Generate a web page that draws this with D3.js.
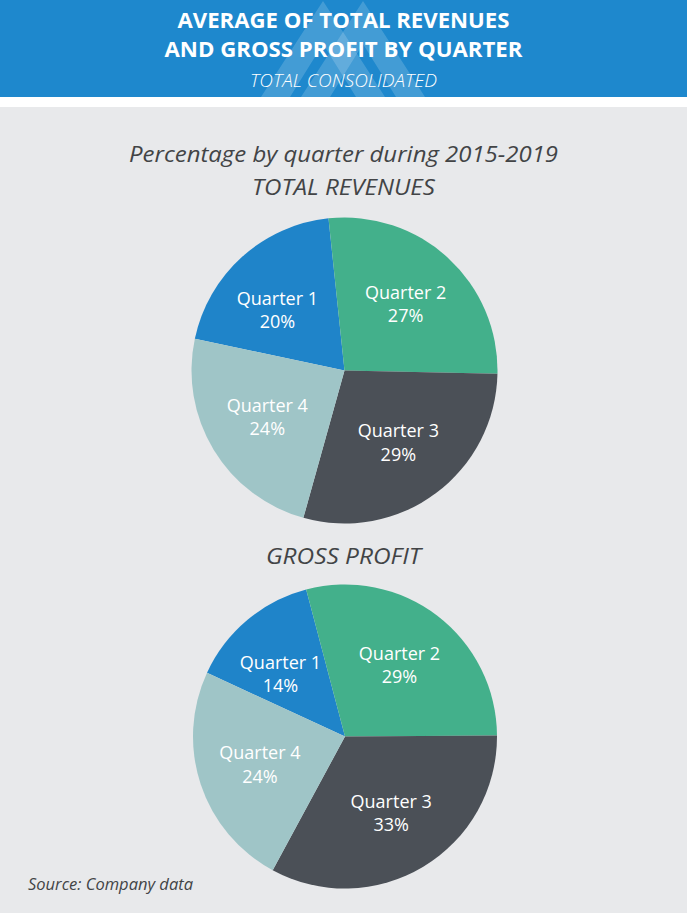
<!DOCTYPE html>
<html>
<head>
<meta charset="utf-8">
<script src="https://cdn.jsdelivr.net/npm/d3@7/dist/d3.min.js"></script>
<style>
  html, body { margin: 0; padding: 0; background: #ffffff; }
  svg { display: block; }
</style>
</head>
<body>
<svg id="chart" width="687" height="913"></svg>
<script>
// ---- data ----
const categories = ["Quarter 1", "Quarter 2", "Quarter 3", "Quarter 4"];
const revenueShare = [20, 27, 29, 24];
const grossProfitShare = [14, 29, 33, 24];
const chartTitles = ["TOTAL REVENUES", "GROSS PROFIT"];
const headerLines = ["AVERAGE OF TOTAL REVENUES", "AND GROSS PROFIT BY QUARTER"];
const headerSub = "TOTAL CONSOLIDATED";
const subtitle = "Percentage by quarter during 2015-2019";
const sourceText = "Source: Company data";

// ---- styles ----
const sliceColors = ["#1f84c9", "#43b08b", "#4b5057", "#9fc5c7"];
const W = 687, H = 913;
const svg = d3.select("#chart");
const font = "'Open Sans', 'Noto Sans', sans-serif";

// header band
svg.append("rect").attr("x", 0).attr("y", 0).attr("width", W).attr("height", 97).attr("fill", "#1e88cd");
// watermark chevrons
const wm = svg.append("g").attr("fill", "#ffffff").attr("fill-opacity", 0.17);
[323, 363].forEach(px => {
  wm.append("path")
    .attr("fill-rule", "evenodd")
    .attr("d", `M${px},1 L${px + 62},97 L${px + 33},97 L${px},44 L${px - 33},97 L${px - 62},97 Z`);
});
// gray panel
svg.append("rect").attr("x", 0).attr("y", 107).attr("width", W).attr("height", H - 107).attr("fill", "#e8e9eb");

// header texts
svg.append("text").attr("x", W / 2).attr("y", 28).attr("text-anchor", "middle")
  .attr("font-family", font).attr("font-weight", 700).attr("font-size", 21).attr("fill", "#ffffff")
  .attr("textLength", 332).attr("lengthAdjust", "spacingAndGlyphs").text(headerLines[0]);
svg.append("text").attr("x", W / 2).attr("y", 57).attr("text-anchor", "middle")
  .attr("font-family", font).attr("font-weight", 700).attr("font-size", 21).attr("fill", "#ffffff")
  .attr("textLength", 358).attr("lengthAdjust", "spacingAndGlyphs").text(headerLines[1]);
svg.append("text").attr("x", W / 2).attr("y", 86.5).attr("text-anchor", "middle")
  .attr("font-family", font).attr("font-style", "italic").attr("font-weight", 300).attr("font-size", 17.5).attr("fill", "#ffffff")
  .attr("textLength", 187).attr("lengthAdjust", "spacingAndGlyphs").text(headerSub);

// subtitle and chart titles
const darkText = "#424446";
svg.append("text").attr("x", W / 2).attr("y", 162).attr("text-anchor", "middle")
  .attr("font-family", font).attr("font-style", "italic").attr("font-size", 22.5).attr("fill", darkText)
  .attr("textLength", 429).attr("lengthAdjust", "spacingAndGlyphs").text(subtitle);

function drawPie(values, cx, cy, r, startDeg, title, titleY, titleW) {
  svg.append("text").attr("x", W / 2).attr("y", titleY).attr("text-anchor", "middle")
    .attr("font-family", font).attr("font-style", "italic").attr("font-size", 21.5).attr("fill", darkText)
    .attr("textLength", titleW).attr("lengthAdjust", "spacingAndGlyphs").text(title);

  const start = startDeg * Math.PI / 180;
  const pie = d3.pie().sort(null).value(d => d.v).startAngle(start).endAngle(start + 2 * Math.PI);
  const arcs = pie(values.map((v, i) => ({ v, name: categories[i], color: sliceColors[i] })));
  const arc = d3.arc().innerRadius(0).outerRadius(r);
  const labelR = r * 0.59;
  const g = svg.append("g").attr("transform", `translate(${cx},${cy})`);
  g.selectAll("path.slice").data(arcs).join("path").attr("class", "slice")
    .attr("d", arc).attr("fill", d => d.data.color);
  // label placement: slice mid-angle, first slice nudged away from the top boundary (best-fit)
  const labelPos = (d, i) => {
    const a = (d.startAngle + d.endAngle) / 2 - (i === 0 ? 6 * Math.PI / 180 : 0);
    return [labelR * Math.sin(a), -labelR * Math.cos(a)];
  };
  const lab = g.selectAll("text.lab").data(arcs).join("text").attr("class", "lab")
    .attr("transform", (d, i) => { const c = labelPos(d, i); return `translate(${c[0]},${c[1]})`; })
    .attr("text-anchor", "middle").attr("font-family", font).attr("font-size", 18).attr("fill", "#ffffff");
  lab.append("tspan").attr("x", 0).attr("y", -5.5).text(d => d.data.name);
  lab.append("tspan").attr("x", 0).attr("y", 18).text(d => d.data.v + "%");
}

drawPie(revenueShare, 344.5, 370.5, 153, -78, chartTitles[0], 195, 183);
drawPie(grossProfitShare, 345, 736.5, 152, -65.2, chartTitles[1], 564, 155);

svg.append("text").attr("x", 28).attr("y", 890).attr("font-family", font).attr("font-style", "italic")
  .attr("font-size", 16.5).attr("fill", darkText).attr("textLength", 165).attr("lengthAdjust", "spacingAndGlyphs").text(sourceText);
</script>
</body>
</html>
